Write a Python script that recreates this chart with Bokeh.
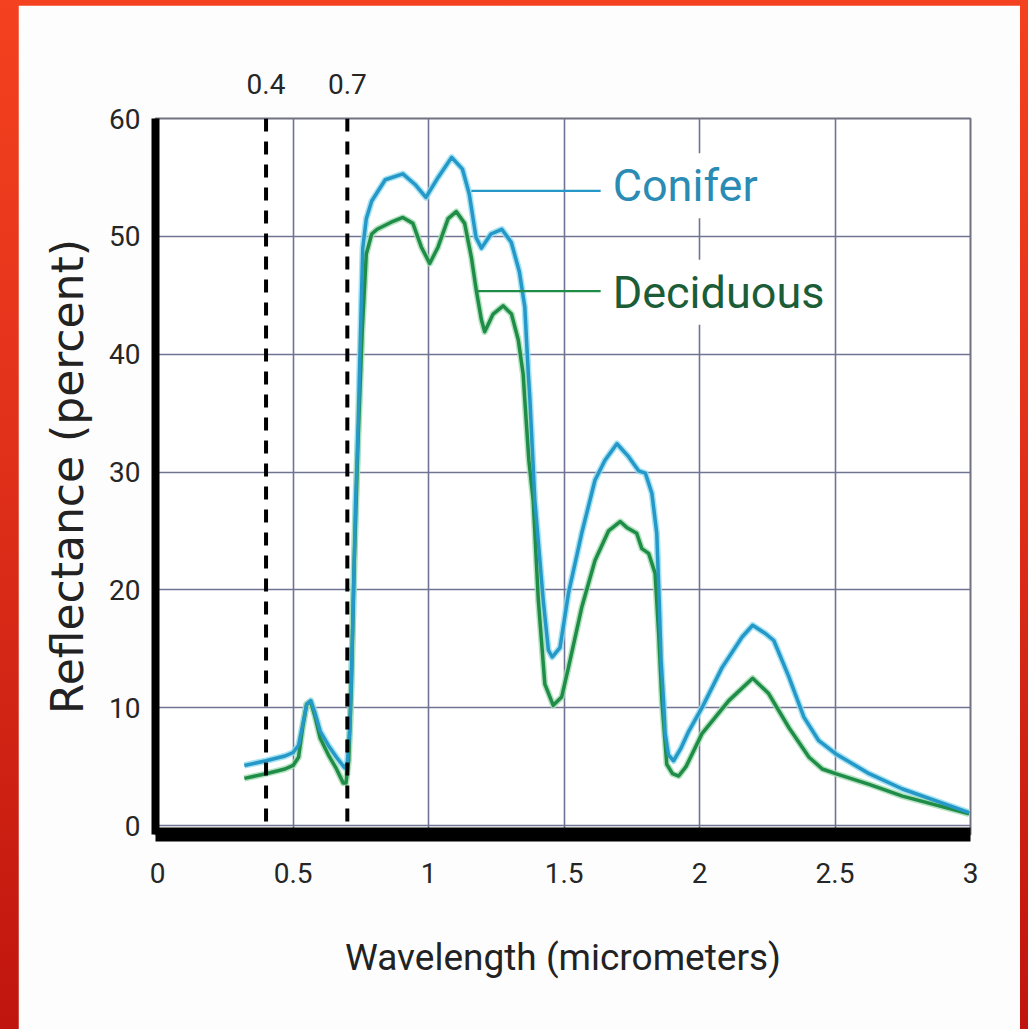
from bokeh.plotting import figure
from bokeh.models import Range1d, FixedTicker, LinearAxis, Span, Label
from bokeh.layouts import column
from bokeh.embed import file_html
from bokeh.resources import INLINE

# ---- data ----
conifer_x = [0.32, 0.40, 0.47, 0.50, 0.52, 0.535, 0.55, 0.565, 0.58, 0.60, 0.63, 0.66, 0.69,
             0.70, 0.71, 0.72, 0.73, 0.74, 0.75, 0.757, 0.77, 0.79, 0.84, 0.905, 0.95, 0.99,
             1.035, 1.085, 1.125, 1.15, 1.175, 1.195, 1.23, 1.27, 1.305, 1.335, 1.355, 1.368,
             1.374, 1.392, 1.423, 1.442, 1.456, 1.485, 1.516, 1.565, 1.614, 1.651, 1.695,
             1.738, 1.775, 1.80, 1.824, 1.842, 1.851, 1.858, 1.867, 1.873, 1.885, 1.904,
             1.93, 1.96, 2.009, 2.083, 2.157, 2.196, 2.243, 2.274, 2.33, 2.385, 2.44, 2.502,
             2.626, 2.749, 2.995]
conifer_y = [5.1, 5.5, 5.9, 6.2, 6.8, 8.5, 10.3, 10.6, 9.6, 8.0, 6.8, 5.8, 4.9,
             5.3, 8.5, 17.0, 27.0, 34.0, 43.0, 49.0, 51.5, 53.0, 54.8, 55.3, 54.4, 53.3,
             55.0, 56.7, 55.7, 53.6, 49.9, 49.0, 50.2, 50.6, 49.5, 47.0, 44.0, 38.3,
             36.1, 27.6, 19.1, 14.9, 14.3, 15.1, 19.7, 24.8, 29.3, 31.0, 32.4,
             31.3, 30.1, 29.9, 28.2, 24.8, 19.1, 14.0, 10.6, 7.8, 6.0, 5.5,
             6.5, 8.0, 10.0, 13.4, 16.0, 17.0, 16.3, 15.7, 12.6, 9.2, 7.2, 6.1,
             4.4, 3.1, 1.1]

deciduous_x = [0.32, 0.40, 0.47, 0.50, 0.52, 0.535, 0.55, 0.565, 0.58, 0.60, 0.63, 0.66, 0.685,
               0.695, 0.705, 0.715, 0.725, 0.74, 0.755, 0.77, 0.79, 0.81, 0.862, 0.905, 0.942,
               0.973, 1.004, 1.035, 1.072, 1.102, 1.133, 1.158, 1.176, 1.195, 1.207, 1.238,
               1.275, 1.306, 1.331, 1.349, 1.355, 1.37, 1.386, 1.405, 1.429, 1.46, 1.491,
               1.516, 1.565, 1.614, 1.664, 1.707, 1.731, 1.768, 1.787, 1.812, 1.836, 1.849,
               1.861, 1.879, 1.90, 1.923, 1.95, 2.009, 2.108, 2.196, 2.255, 2.33, 2.404,
               2.453, 2.502, 2.626, 2.749, 2.995]
deciduous_y = [4.0, 4.4, 4.8, 5.1, 5.8, 8.3, 10.3, 10.5, 9.3, 7.4, 6.0, 4.8, 3.6,
               3.6, 5.5, 12.0, 22.0, 33.0, 42.0, 48.5, 50.2, 50.6, 51.2, 51.6, 51.1,
               49.1, 47.7, 49.1, 51.5, 52.1, 51.1, 48.2, 45.4, 42.9, 41.9, 43.4,
               44.1, 43.4, 41.2, 38.3, 36.1, 31.0, 27.6, 19.1, 12.0, 10.2, 10.9,
               13.4, 18.5, 22.5, 25.0, 25.8, 25.3, 24.8, 23.5, 23.1, 21.4, 16.3,
               10.6, 5.2, 4.4, 4.2, 5.0, 7.8, 10.6, 12.5, 11.2, 8.3, 5.8,
               4.8, 4.4, 3.5, 2.5, 1.0]

x_ticks = [0, 0.5, 1, 1.5, 2, 2.5, 3]
x_tick_labels = ["0", "0.5", "1", "1.5", "2", "2.5", "3"]
y_ticks = [0, 10, 20, 30, 40, 50, 60]
y_tick_labels = ["0", "10", "20", "30", "40", "50", "60"]
marker_ticks = [0.4, 0.7]
marker_labels = ["0.4", "0.7"]

series_names = ["Conifer", "Deciduous"]
# leader lines: start on curve (x, y) and end x; label centre heights
leader_start_x = [1.158, 1.176]
leader_y = [53.85, 45.35]
leader_end_x = [1.635, 1.635]
label_y = [54.3, 45.25]

# ---- styles ----
TICKFONT = "Roboto"
C_LINE, C_HALO, C_TEXT = "#2598c8", "#8fdcf0", "#2a8bb4"
D_LINE, D_HALO, D_TEXT = "#1f8d48", "#a3dcb2", "#1b5d37"
GRID = "#6f7492"

p = figure(width=1002, height=1024,
           x_range=Range1d(-0.008, 3), y_range=Range1d(-0.76, 60),
           output_backend="svg", toolbar_location=None,
           min_border_left=137, min_border_right=50,
           min_border_top=113, min_border_bottom=195,
           background_fill_color="white", border_fill_color="#fdfdfd",
           outline_line_color="#707280", outline_line_width=2)

# axes
for ax in (p.xaxis[0], p.yaxis[0]):
    ax.axis_line_color = "black"
    ax.major_tick_line_color = None
    ax.minor_tick_line_color = None
    ax.major_tick_out = 0
    ax.major_tick_in = 0
    ax.major_label_text_font = TICKFONT
    ax.major_label_text_font_size = "28px"
    ax.major_label_text_color = "#262626"

p.xaxis.ticker = FixedTicker(ticks=x_ticks)
p.xaxis.major_label_overrides = dict(zip(x_ticks, x_tick_labels))
p.xaxis.axis_line_width = 14
p.xaxis.major_label_standoff = 28
p.xaxis.axis_label = "Wavelength (micrometers)"
p.xaxis.axis_label_text_font = TICKFONT
p.xaxis.axis_label_text_font_size = "37px"
p.xaxis.axis_label_text_font_style = "normal"
p.xaxis.axis_label_text_color = "#222222"
p.xaxis.axis_label_standoff = 50

p.yaxis.ticker = FixedTicker(ticks=y_ticks)
p.yaxis.major_label_overrides = dict(zip(y_ticks, y_tick_labels))
p.yaxis.axis_line_width = 8
p.yaxis.major_label_standoff = 15
p.yaxis.axis_label = "Reflectance (percent)"
p.yaxis.axis_label_text_font = "DejaVu Sans"
p.yaxis.axis_label_text_font_size = "44px"
p.yaxis.axis_label_text_font_style = "normal"
p.yaxis.axis_label_text_color = "#222222"
p.yaxis.axis_label_standoff = 13

top = LinearAxis(ticker=FixedTicker(ticks=marker_ticks),
                 major_label_overrides=dict(zip(marker_ticks, marker_labels)),
                 axis_line_color=None, major_tick_line_color=None, minor_tick_line_color=None,
                 major_tick_out=0, major_tick_in=0,
                 major_label_standoff=25, major_label_text_font=TICKFONT,
                 major_label_text_font_size="28px", major_label_text_color="#262626")
p.add_layout(top, "above")

# grid
p.xgrid.ticker = FixedTicker(ticks=x_ticks)
p.ygrid.ticker = FixedTicker(ticks=y_ticks)
p.grid.grid_line_color = GRID
p.grid.grid_line_width = 1.6

# dashed markers
for m in marker_ticks:
    p.add_layout(Span(location=m, dimension="height", line_color="black",
                      line_width=4, line_dash="13 10"))

# curves
p.line(conifer_x, conifer_y, line_color=C_HALO, line_width=6.5, line_join="round", line_alpha=0.8)
p.line(deciduous_x, deciduous_y, line_color=D_HALO, line_width=6.5, line_join="round", line_alpha=0.8)
p.line(deciduous_x, deciduous_y, line_color=D_LINE, line_width=3.5, line_join="round")
p.line(conifer_x, conifer_y, line_color=C_LINE, line_width=3.5, line_join="round")

# leaders + labels
colors_line = [C_LINE, D_LINE]
colors_text = [C_TEXT, D_TEXT]
for name, x0, yy, x1, ly, cl, ct in zip(series_names, leader_start_x, leader_y, leader_end_x,
                                        label_y, colors_line, colors_text):
    p.segment(x0=[x0], y0=[yy], x1=[x1], y1=[yy], line_color=cl, line_width=2.2)
    p.add_layout(Label(x=x1, y=ly, x_offset=6, text=name, text_baseline="middle",
                       text_align="left", text_font=TICKFONT, text_font_size="45px",
                       text_color=ct, background_fill_color="white", padding=6))

layout = column(p, styles={"background": "linear-gradient(180deg, #f4411f 0%, #e0301a 45%, #c0150e 100%)",
                           "padding-left": "18px", "padding-top": "5px", "padding-right": "8px"})

open("out.html", "w").write(file_html(layout, INLINE))
